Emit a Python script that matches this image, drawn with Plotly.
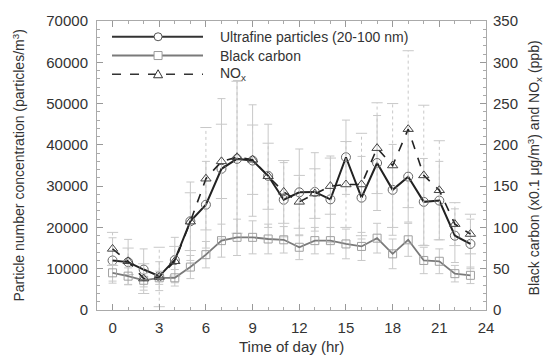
import plotly.graph_objects as go

hours = list(range(24))
ufp = [12000, 11600, 9800, 8200, 12100, 21500, 25500, 34200, 36600, 36200, 32500, 26700,
       28500, 28600, 26800, 37000, 27200, 35600, 29100, 32300, 26200, 26500, 18000, 16000]
ufp_sd = [5500, 5500, 5000, 3500, 5500, 9500, 10500, 17000, 19000, 13500, 12500, 9000,
          10500, 9500, 10500, 9000, 10000, 11500, 11000, 11000, 10500, 9500, 6500, 6000]
bc = [45, 41, 36, 39, 39, 52, 67, 84, 88, 88, 86, 85, 76, 84, 84, 80, 77, 87, 68, 85, 60, 59, 44, 42]
bc_sd = [10, 10, 8, 8, 10, 14, 16, 20, 22, 20, 18, 16, 15, 16, 16, 18, 17, 18, 18, 20, 16, 15, 10, 10]
nox = [74, 59, 38, 40, 59, 107, 159, 180, 185, 182, 162, 143, 131, 141, 150, 152, 152, 196,
       175, 219, 163, 145, 104, 92]
nox_sd = [20, 16, 18, 36, 18, 35, 62, 45, 92, 42, 40, 38, 32, 30, 34, 52, 62, 55, 75, 95, 85, 60, 26, 24]

x_ticks = [0, 3, 6, 9, 12, 15, 18, 21, 24]
left_ticks = [0, 10000, 20000, 30000, 40000, 50000, 60000, 70000]
right_ticks = [0, 50, 100, 150, 200, 250, 300, 350]

names = ["Ultrafine particles (20-100 nm)", "Black carbon", "NO<sub>x</sub>"]

FONT = "Liberation Sans, Arial, sans-serif"
TXT = "#333333"
ERR = "#c8c8c8"

fig = go.Figure()

# NOx dashed error bars (custom)
ex, ey, cx, cy = [], [], [], []
for h, v, s in zip(hours, nox, nox_sd):
    ex += [h, h, None]
    ey += [max(v - s, 0), v + s, None]
    cx += [h, h]
    cy += [max(v - s, 0), v + s]
fig.add_trace(go.Scatter(x=ex, y=ey, mode="lines", yaxis="y2",
                         line=dict(color=ERR, width=1, dash="dot"), hoverinfo="skip"))
fig.add_trace(go.Scatter(x=cx, y=cy, mode="markers", yaxis="y2",
                         marker=dict(symbol="line-ew", size=8, line=dict(color=ERR, width=1)),
                         hoverinfo="skip"))

# Black carbon
fig.add_trace(go.Scatter(x=hours, y=bc, mode="lines+markers", yaxis="y2", name=names[1],
                         line=dict(color="#7a7a7a", width=1.8),
                         marker=dict(symbol="square-open", size=8, color="#a0a0a0",
                                     line=dict(width=1)),
                         error_y=dict(type="data", array=bc_sd, color=ERR, thickness=1, width=4)))

# Ultrafine
fig.add_trace(go.Scatter(x=hours, y=ufp, mode="lines+markers", yaxis="y", name=names[0],
                         line=dict(color="#222222", width=2),
                         marker=dict(symbol="circle-open", size=9, color="#666666",
                                     line=dict(width=1)),
                         error_y=dict(type="data", array=ufp_sd, color=ERR, thickness=1, width=4)))

# NOx
fig.add_trace(go.Scatter(x=hours, y=nox, mode="lines+markers", yaxis="y2", name=names[2],
                         line=dict(color="#222222", width=1.6, dash="dash"),
                         marker=dict(symbol="triangle-up-open", size=9, color="#444444",
                                     line=dict(width=1))))

# Manual legend
rows = [0.9454, 0.8805, 0.8157]
lx0, lx1, lxm, ltx = 0.0386, 0.2725, 0.157, 0.311
legend_styles = [
    dict(color="#333333", width=2, dash="solid"),
    dict(color="#7a7a7a", width=2, dash="solid"),
    dict(color="#333333", width=1.5, dash="dash"),
]
shapes = []
annotations = []
for i, (yr, st) in enumerate(zip(rows, legend_styles)):
    shapes.append(dict(type="line", xref="paper", yref="paper", x0=lx0, x1=lx1, y0=yr, y1=yr,
                       line=st))
    annotations.append(dict(text=names[i], x=ltx, y=yr, xref="paper", yref="paper",
                            xanchor="left", yanchor="middle", showarrow=False,
                            font=dict(family=FONT, size=14, color=TXT)))
shapes.append(dict(type="circle", xref="paper", yref="paper", xsizemode="pixel", ysizemode="pixel",
                   xanchor=lxm, yanchor=rows[0], x0=-4, x1=4, y0=-4, y1=4,
                   line=dict(color="#555555", width=1), fillcolor="white"))
shapes.append(dict(type="rect", xref="paper", yref="paper", xsizemode="pixel", ysizemode="pixel",
                   xanchor=lxm, yanchor=rows[1], x0=-4, x1=4, y0=-4, y1=4,
                   line=dict(color="#9a9a9a", width=1), fillcolor="white"))
shapes.append(dict(type="path", xref="paper", yref="paper", xsizemode="pixel", ysizemode="pixel",
                   xanchor=lxm, yanchor=rows[2], path="M -4.5 -3.5 L 4.5 -3.5 L 0 4.5 Z",
                   line=dict(color="#333333", width=1), fillcolor="white"))

# Axis titles
annotations.append(dict(text="Particle number concentration (particles/m<sup>3</sup>)",
                        x=-0.203, y=0.5, xref="paper", yref="paper", textangle=-90,
                        showarrow=False, xanchor="center", yanchor="middle",
                        font=dict(family=FONT, size=14, color=TXT)))
annotations.append(dict(text="Black carbon (x0.1 μg/m<sup>3</sup>) and NO<sub>x</sub> (ppb)",
                        x=1.126, y=0.49, xref="paper", yref="paper", textangle=-90,
                        showarrow=False, xanchor="center", yanchor="middle",
                        font=dict(family=FONT, size=14, color=TXT)))
annotations.append(dict(text="Time of day (hr)", x=0.5, y=-0.126, xref="paper", yref="paper",
                        showarrow=False, xanchor="center", yanchor="middle",
                        font=dict(family=FONT, size=15, color=TXT)))

fig.update_layout(
    width=558, height=357,
    margin=dict(l=97, r=72, t=17, b=47),
    paper_bgcolor="white", plot_bgcolor="white",
    showlegend=False,
    font=dict(family=FONT, size=15, color=TXT),
    shapes=shapes, annotations=annotations,
    xaxis=dict(range=[-1, 24], tickvals=x_ticks, ticktext=[str(t) for t in x_ticks],
               ticks="inside", ticklen=6, tickcolor="#999", ticklabelstandoff=4,
               showline=True, linecolor="#aaa", linewidth=1, mirror="ticks",
               showgrid=False, zeroline=False,
               minor=dict(dtick=1, ticks="inside", ticklen=3, tickcolor="#aaa")),
    yaxis=dict(range=[0, 70000], tickvals=left_ticks, ticktext=[str(t) for t in left_ticks],
               ticks="inside", ticklen=6, tickcolor="#999", ticklabelstandoff=5,
               showline=True, linecolor="#aaa", linewidth=1, mirror="ticks",
               showgrid=False, zeroline=False,
               minor=dict(dtick=2000, ticks="inside", ticklen=3, tickcolor="#aaa")),
    yaxis2=dict(range=[0, 350], tickvals=right_ticks, ticktext=[str(t) for t in right_ticks],
                overlaying="y", side="right", ticklabelstandoff=6,
                ticks="", showgrid=False, zeroline=False, showline=False),
)

fig.write_html("out.html")
